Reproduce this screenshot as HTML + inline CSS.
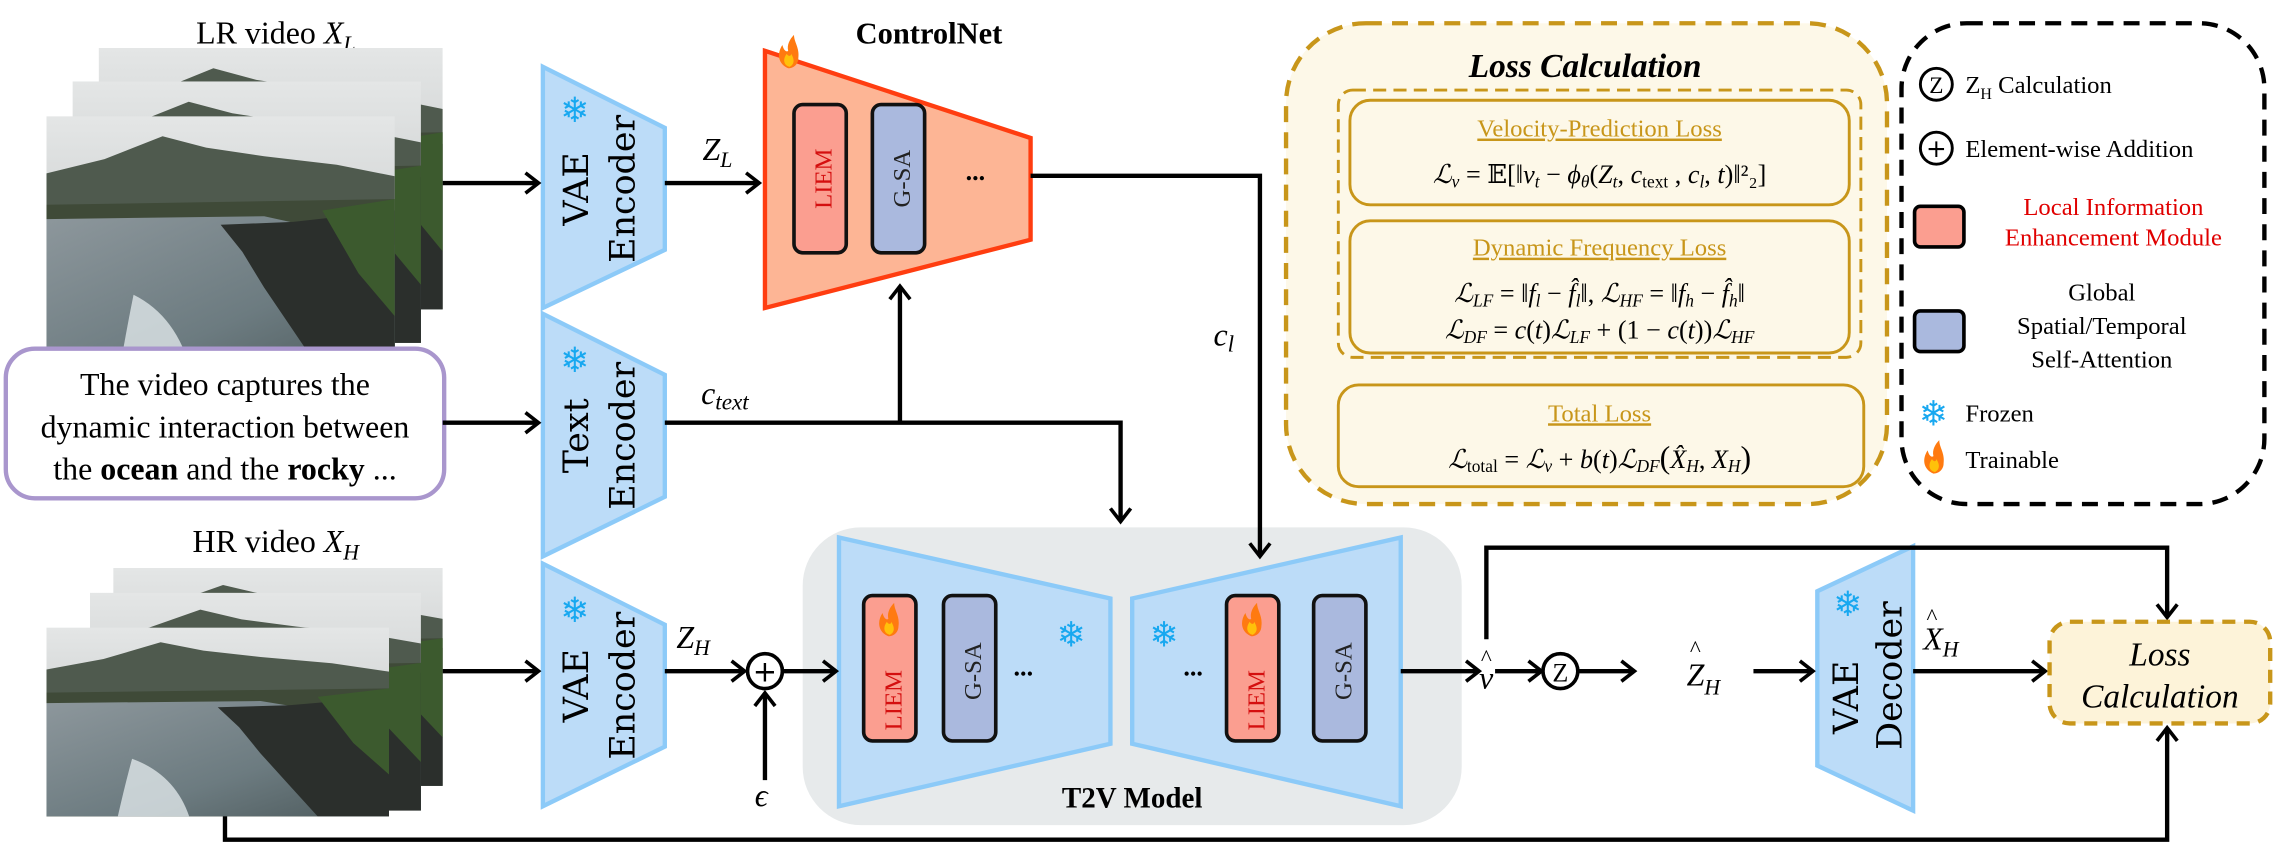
<!DOCTYPE html>
<html><head><meta charset="utf-8"><style>
html,body{margin:0;padding:0;background:#fff;}
svg{display:block;font-family:"Liberation Serif","DejaVu Serif",serif;}
</style></head><body>
<svg width="2276" height="860" viewBox="0 0 1568 592" preserveAspectRatio="none" xmlns="http://www.w3.org/2000/svg" font-family="Liberation Serif, DejaVu Serif, serif" style="font-family:'Liberation Serif','DejaVu Serif',serif">
<defs>
<linearGradient id="sky" x1="0" y1="0" x2="0" y2="1">
<stop offset="0" stop-color="#e4e6e6"/><stop offset="1" stop-color="#b9bdbd"/></linearGradient>
<linearGradient id="sea" x1="0" y1="0" x2="1" y2="1">
<stop offset="0" stop-color="#8d979c"/><stop offset="0.6" stop-color="#6c7b80"/><stop offset="1" stop-color="#4d5a5c"/></linearGradient>
<g id="photo">
<rect x="0" y="0" width="240" height="180" fill="url(#sky)"/>
<path d="M0 40 L40 30 L80 14 L110 22 L150 28 L200 34 L240 42 L240 180 L0 180Z" fill="#4f5a4e"/>
<path d="M0 62 L240 58 L240 180 L0 180Z" fill="#3f4a38"/>
<path d="M0 72 L150 70 L240 90 L240 180 L0 180Z" fill="url(#sea)"/>
<path d="M120 76 L170 74 L240 66 L240 180 L190 180 L170 150 L150 120 L135 95Z" fill="#2b2f2c"/>
<path d="M190 66 L240 58 L240 140 L215 110Z" fill="#3c5a2e"/>
<path d="M60 125 Q90 140 100 180 L50 180 Q55 150 60 125Z" fill="#dfe6e8" opacity="0.8"/>
</g>
<g id="fire"><path d="M0 0 C-7 -3 -8 -10 -4 -16 C-3 -12 -1 -11 0 -12 C-1 -16 1 -20 4 -23 C4 -18 8 -14 7 -7 C7 -3 4 0 0 0Z" fill="#ff7a10"/><path d="M1 -1 C-3 -2 -4 -6 -1 -10 C0 -8 2 -8 2 -10 C4 -7 5 -3 1 -1Z" fill="#ffc10a"/></g>
</defs>

<!-- LR video -->
<text x="190" y="30" font-size="22" text-anchor="middle">LR video <tspan font-style="italic">X</tspan><tspan font-style="italic" font-size="15" dy="5">L</tspan></text>
<svg x="68" y="33" width="237" height="180" viewBox="0 0 240 180" preserveAspectRatio="none"><use href="#photo"/></svg>
<svg x="50" y="56" width="240" height="180" viewBox="0 0 240 180" preserveAspectRatio="none"><use href="#photo"/></svg>
<svg x="32" y="80" width="240" height="177" viewBox="0 0 240 180" preserveAspectRatio="none"><use href="#photo"/></svg>

<!-- HR video -->
<text x="190" y="380" font-size="22" text-anchor="middle">HR video <tspan font-style="italic">X</tspan><tspan font-style="italic" font-size="15" dy="5">H</tspan></text>
<svg x="78" y="391" width="227" height="150" viewBox="0 0 240 180" preserveAspectRatio="none"><use href="#photo"/></svg>
<svg x="62" y="408" width="228" height="150" viewBox="0 0 240 180" preserveAspectRatio="none"><use href="#photo"/></svg>
<svg x="32" y="432" width="236" height="130" viewBox="0 0 240 180" preserveAspectRatio="none"><use href="#photo"/></svg>

<!-- Text prompt box -->
<rect x="4" y="240" width="302" height="103" rx="20" fill="#fff" stroke="#a996cd" stroke-width="3"/>
<text x="155" y="272" font-size="22" text-anchor="middle">The video captures the</text>
<text x="155" y="301" font-size="22" text-anchor="middle">dynamic interaction between</text>
<text x="155" y="330" font-size="22" text-anchor="middle">the <tspan font-weight="bold">ocean</tspan> and the <tspan font-weight="bold">rocky</tspan> ...</text>

<!-- Encoders -->
<g fill="#bcdcf8" stroke="#8ccaf8" stroke-width="3">
<polygon points="374,46 458,88 458,172 374,212"/>
<polygon points="374,216 458,258 458,342 374,383"/>
<polygon points="374,388 458,430 458,514 374,555"/>
<polygon points="1252,407 1318,376 1318,558 1252,527"/>
</g>
<g font-family="DejaVu Serif,serif" font-size="24">
<text transform="translate(405,130) rotate(-90)" text-anchor="middle">VAE</text>
<text transform="translate(437,130) rotate(-90)" text-anchor="middle">Encoder</text>
<text transform="translate(405,300) rotate(-90)" text-anchor="middle">Text</text>
<text transform="translate(437,300) rotate(-90)" text-anchor="middle">Encoder</text>
<text transform="translate(405,472) rotate(-90)" text-anchor="middle">VAE</text>
<text transform="translate(437,472) rotate(-90)" text-anchor="middle">Encoder</text>
<text transform="translate(1280,480) rotate(-90)" text-anchor="middle">VAE</text>
<text transform="translate(1310,465) rotate(-90)" text-anchor="middle">Decoder</text>
</g>

<!-- ControlNet -->
<text x="640" y="30" font-size="21" font-weight="bold" text-anchor="middle">ControlNet</text>
<polygon points="527,35 710,95 710,165 527,212" fill="#fdb595" stroke="#ff3d10" stroke-width="3"/>
<rect x="547" y="72" width="36" height="102" rx="6" fill="#fb9e90" stroke="#111" stroke-width="2.5"/>
<rect x="601" y="72" width="36" height="102" rx="6" fill="#aab9de" stroke="#111" stroke-width="2.5"/>
<text transform="translate(573,123) rotate(-90)" text-anchor="middle" font-size="17" fill="#d40f0f">LIEM</text>
<text transform="translate(627,123) rotate(-90)" text-anchor="middle" font-size="17" fill="#222">G-SA</text>
<text x="672" y="124" font-size="18" font-weight="bold" text-anchor="middle">...</text>

<!-- T2V model -->
<rect x="553" y="363" width="454" height="205" rx="40" fill="#e7eaeb"/>
<polygon points="578,370 765,412 765,512 578,555" fill="#bcdcf8" stroke="#8ccaf8" stroke-width="3"/>
<polygon points="780,412 965,370 965,555 780,512" fill="#bcdcf8" stroke="#8ccaf8" stroke-width="3"/>
<rect x="595" y="410" width="36" height="100" rx="6" fill="#fb9e90" stroke="#111" stroke-width="2.5"/>
<rect x="650" y="410" width="36" height="100" rx="6" fill="#aab9de" stroke="#111" stroke-width="2.5"/>
<rect x="845" y="410" width="36" height="100" rx="6" fill="#fb9e90" stroke="#111" stroke-width="2.5"/>
<rect x="905" y="410" width="36" height="100" rx="6" fill="#aab9de" stroke="#111" stroke-width="2.5"/>
<text transform="translate(621,482) rotate(-90)" text-anchor="middle" font-size="17" fill="#d40f0f">LIEM</text>
<text transform="translate(676,462) rotate(-90)" text-anchor="middle" font-size="17" fill="#222">G-SA</text>
<text transform="translate(871,482) rotate(-90)" text-anchor="middle" font-size="17" fill="#d40f0f">LIEM</text>
<text transform="translate(931,462) rotate(-90)" text-anchor="middle" font-size="17" fill="#222">G-SA</text>
<text x="705" y="465" font-size="18" font-weight="bold" text-anchor="middle">...</text>
<text x="822" y="465" font-size="18" font-weight="bold" text-anchor="middle">...</text>
<text x="780" y="556" font-size="20" font-weight="bold" text-anchor="middle">T2V Model</text>

<!-- connectors -->
<g stroke="#000" stroke-width="3" fill="none">
<line x1="305" y1="126" x2="370" y2="126"/>
<line x1="458" y1="126" x2="522" y2="126"/>
<polyline points="710,121 868,121 868,382"/>
<line x1="305" y1="291" x2="370" y2="291"/>
<polyline points="458,291 772,291 772,358"/>
<line x1="620" y1="291" x2="620" y2="197"/>
<line x1="305" y1="462" x2="370" y2="462"/>
<line x1="458" y1="462" x2="512" y2="462"/>
<line x1="540" y1="462" x2="575" y2="462"/>
<line x1="527" y1="537" x2="527" y2="478"/>
<line x1="965" y1="462" x2="1018" y2="462"/>
<line x1="1030" y1="462" x2="1060" y2="462"/>
<line x1="1088" y1="462" x2="1125" y2="462"/>
<line x1="1208" y1="462" x2="1248" y2="462"/>
<line x1="1318" y1="462" x2="1408" y2="462"/>
<polyline points="1024,440 1024,377 1493,377 1493,424"/>
<polyline points="155,562 155,578 1493,578 1493,502"/>
</g>
<g fill="none" stroke="#000" stroke-width="2.5">
<polyline points="362,119 371,126 362,133"/>
<polyline points="514,119 523,126 514,133"/>
<polyline points="861,374 868,383 875,374"/>
<polyline points="362,284 371,291 362,298"/>
<polyline points="765,350 772,359 779,350"/>
<polyline points="613,206 620,197 627,206"/>
<polyline points="362,455 371,462 362,469"/>
<polyline points="504,455 513,462 504,469"/>
<polyline points="567,455 576,462 567,469"/>
<polyline points="520,486 527,477 534,486"/>
<polyline points="1010,455 1019,462 1010,469"/>
<polyline points="1053,455 1062,462 1053,469"/>
<polyline points="1117,455 1126,462 1117,469"/>
<polyline points="1240,455 1249,462 1240,469"/>
<polyline points="1400,455 1409,462 1400,469"/>
<polyline points="1486,416 1493,425 1500,416"/>
<polyline points="1486,510 1493,501 1500,510"/>
</g>
<circle cx="527" cy="462" r="12" fill="#fff" stroke="#000" stroke-width="2.5"/>
<text x="527" y="469" font-size="20" text-anchor="middle" font-family="DejaVu Sans,sans-serif">+</text>
<circle cx="1075" cy="462" r="12" fill="#fff" stroke="#000" stroke-width="2.5"/>
<text x="1075" y="469" font-size="18" text-anchor="middle">Z</text>

<!-- labels -->
<g font-style="italic" font-size="22">
<text x="484" y="110">Z<tspan font-size="15" dy="5">L</tspan></text>
<text x="483" y="278">c<tspan font-size="16" dy="4">text</tspan></text>
<text x="836" y="238">c<tspan font-size="16" dy="4">l</tspan></text>
<text x="466" y="446">Z<tspan font-size="15" dy="5">H</tspan></text>
<text x="520" y="555">ϵ</text>
<text x="1019" y="474">v</text>
<text x="1162" y="472">Z<tspan font-size="15" dy="6">H</tspan></text>
<text x="1325" y="447">X<tspan font-size="15" dy="5">H</tspan></text>
</g>
<g font-size="16" text-anchor="middle"><text x="1024" y="458">^</text><text x="1168" y="452">^</text><text x="1331" y="430">^</text></g>

<!-- Loss calc small box -->
<rect x="1412" y="428" width="152" height="70" rx="14" fill="#fdf3d9" stroke="#c8961a" stroke-width="3" stroke-dasharray="9,6"/>
<text x="1488" y="458" font-size="23" font-style="italic" text-anchor="middle">Loss</text>
<text x="1488" y="487" font-size="23" font-style="italic" text-anchor="middle">Calculation</text>

<!-- Big loss panel -->
<rect x="886" y="16" width="414" height="331" rx="55" fill="#fdf8e8" stroke="#c8961a" stroke-width="3" stroke-dasharray="11,7"/>
<text x="1092" y="53" font-size="23" font-weight="bold" font-style="italic" text-anchor="middle">Loss Calculation</text>
<rect x="922" y="62" width="360" height="184" rx="10" fill="none" stroke="#c8961a" stroke-width="2" stroke-dasharray="9,5"/>
<rect x="930" y="69" width="344" height="72" rx="14" fill="#fdf8e8" stroke="#c8961a" stroke-width="2"/>
<rect x="930" y="152" width="344" height="91" rx="14" fill="#fdf8e8" stroke="#c8961a" stroke-width="2"/>
<rect x="922" y="265" width="362" height="70" rx="14" fill="#fdf8e8" stroke="#c8961a" stroke-width="2"/>
<g fill="#c8961a" font-size="17" text-anchor="middle" text-decoration="underline">
<text x="1102" y="94">Velocity-Prediction Loss</text>
<text x="1102" y="176">Dynamic Frequency Loss</text>
<text x="1102" y="290">Total Loss</text>
</g>
<g font-size="18" text-anchor="middle">
<text x="1102" y="126"><tspan font-style="italic">ℒ</tspan><tspan font-style="italic" font-size="12" dy="3">v</tspan><tspan dy="-3"> = 𝔼[‖</tspan><tspan font-style="italic">v</tspan><tspan font-size="12" dy="3" font-style="italic">t</tspan><tspan dy="-3"> − </tspan><tspan font-style="italic">ϕ</tspan><tspan font-size="12" dy="3" font-style="italic">θ</tspan><tspan dy="-3">(</tspan><tspan font-style="italic">Z</tspan><tspan font-size="12" dy="3" font-style="italic">t</tspan><tspan dy="-3">, </tspan><tspan font-style="italic">c</tspan><tspan font-size="12" dy="3">text</tspan><tspan dy="-3"> , </tspan><tspan font-style="italic">c</tspan><tspan font-size="12" dy="3" font-style="italic">l</tspan><tspan dy="-3">, </tspan><tspan font-style="italic">t</tspan><tspan>)‖²₂]</tspan></text>
<text x="1102" y="208"><tspan font-style="italic">ℒ</tspan><tspan font-style="italic" font-size="12" dy="3">LF</tspan><tspan dy="-3"> = ‖</tspan><tspan font-style="italic">f</tspan><tspan font-size="12" dy="3" font-style="italic">l</tspan><tspan dy="-3"> − </tspan><tspan font-style="italic">f̂</tspan><tspan font-size="12" dy="3" font-style="italic">l</tspan><tspan dy="-3">‖, </tspan><tspan font-style="italic">ℒ</tspan><tspan font-style="italic" font-size="12" dy="3">HF</tspan><tspan dy="-3"> = ‖</tspan><tspan font-style="italic">f</tspan><tspan font-size="12" dy="3" font-style="italic">h</tspan><tspan dy="-3"> − </tspan><tspan font-style="italic">f̂</tspan><tspan font-size="12" dy="3" font-style="italic">h</tspan><tspan dy="-3">‖</tspan></text>
<text x="1102" y="233"><tspan font-style="italic">ℒ</tspan><tspan font-style="italic" font-size="12" dy="3">DF</tspan><tspan dy="-3"> = </tspan><tspan font-style="italic">c</tspan><tspan>(</tspan><tspan font-style="italic">t</tspan><tspan>)</tspan><tspan font-style="italic">ℒ</tspan><tspan font-style="italic" font-size="12" dy="3">LF</tspan><tspan dy="-3"> + (1 − </tspan><tspan font-style="italic">c</tspan><tspan>(</tspan><tspan font-style="italic">t</tspan><tspan>))</tspan><tspan font-style="italic">ℒ</tspan><tspan font-style="italic" font-size="12" dy="3">HF</tspan></text>
<text x="1102" y="322"><tspan font-style="italic">ℒ</tspan><tspan font-size="12" dy="3">total</tspan><tspan dy="-3"> = </tspan><tspan font-style="italic">ℒ</tspan><tspan font-style="italic" font-size="12" dy="3">v</tspan><tspan dy="-3"> + </tspan><tspan font-style="italic">b</tspan><tspan>(</tspan><tspan font-style="italic">t</tspan><tspan>)</tspan><tspan font-style="italic">ℒ</tspan><tspan font-style="italic" font-size="12" dy="3">DF</tspan><tspan dy="-3" font-size="22">(</tspan><tspan font-style="italic">X̂</tspan><tspan font-style="italic" font-size="12" dy="3">H</tspan><tspan dy="-3">, </tspan><tspan font-style="italic">X</tspan><tspan font-style="italic" font-size="12" dy="3">H</tspan><tspan dy="-3" font-size="22">)</tspan></text>
</g>

<!-- Legend -->
<rect x="1310" y="16" width="250" height="331" rx="45" fill="#fff" stroke="#000" stroke-width="3" stroke-dasharray="11,7"/>
<circle cx="1334" cy="58" r="11" fill="#fff" stroke="#000" stroke-width="2"/>
<text x="1334" y="64" font-size="16" text-anchor="middle">Z</text>
<text x="1354" y="64" font-size="17">Z<tspan font-size="11" dy="4">H</tspan><tspan dy="-4"> Calculation</tspan></text>
<circle cx="1334" cy="102" r="11" fill="#fff" stroke="#000" stroke-width="2"/>
<text x="1334" y="108" font-size="17" text-anchor="middle" font-family="DejaVu Sans,sans-serif">+</text>
<text x="1354" y="108" font-size="17">Element-wise Addition</text>
<rect x="1319" y="142" width="34" height="28" rx="4" fill="#fb9e90" stroke="#000" stroke-width="2.5"/>
<text x="1456" y="148" font-size="17" fill="#e00000" text-anchor="middle">Local Information</text>
<text x="1456" y="169" font-size="17" fill="#e00000" text-anchor="middle">Enhancement Module</text>
<rect x="1319" y="214" width="34" height="28" rx="4" fill="#aab9de" stroke="#000" stroke-width="2.5"/>
<text x="1448" y="207" font-size="17" text-anchor="middle">Global</text>
<text x="1448" y="230" font-size="17" text-anchor="middle">Spatial/Temporal</text>
<text x="1448" y="253" font-size="17" text-anchor="middle">Self-Attention</text>
<text x="1354" y="290" font-size="17">Frozen</text>
<text x="1354" y="322" font-size="17">Trainable</text>

<!-- icons on top -->
<g font-family="DejaVu Sans,sans-serif" font-size="24" fill="#18a8f0" text-anchor="middle">
<text x="396" y="84">❄</text>
<text x="396" y="256">❄</text>
<text x="396" y="428">❄</text>
<text x="1273" y="424">❄</text>
<text x="738" y="445">❄</text>
<text x="802" y="445">❄</text>
<text x="1332" y="293">❄</text>
</g>
<use href="#fire" transform="translate(543,47)"/>
<use href="#fire" transform="translate(612,438)"/>
<use href="#fire" transform="translate(862,438)"/>
<use href="#fire" transform="translate(1332,326)"/>
</svg>
</body></html>
